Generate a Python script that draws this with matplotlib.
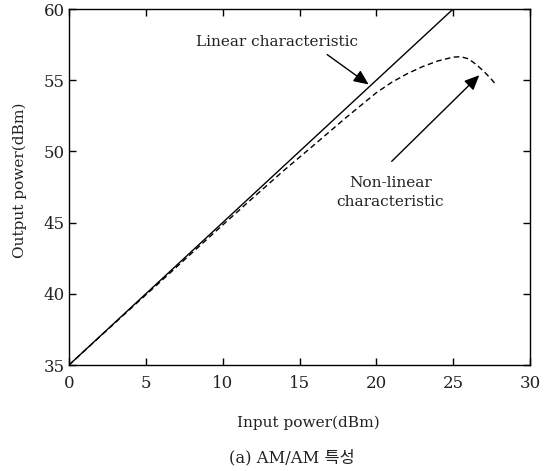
import matplotlib.pyplot as plt

# data
lin_x = [0, 25]
lin_y = [35, 60]

nl_x = [0, 2, 4, 6, 8, 10, 12, 14, 16, 18, 20, 21, 22, 23, 24, 25, 25.5, 26, 26.5, 27, 27.5, 27.8]
nl_y = [35, 36.98, 38.95, 40.9, 42.87, 44.83, 46.77, 48.68, 50.5, 52.35, 54.12, 54.85, 55.45,
        55.95, 56.35, 56.62, 56.65, 56.5, 56.1, 55.62, 55.05, 54.66]

x_ticks = [0, 5, 10, 15, 20, 25, 30]
y_ticks = [35, 40, 45, 50, 55, 60]

plt.rcParams['font.family'] = ['DejaVu Serif', 'Noto Sans CJK KR']
txt = '#222222'

fig = plt.figure(figsize=(5.45, 4.71), dpi=100)
ax = fig.add_axes([69 / 545, 1 - 365 / 471, 461 / 545, 356 / 471])

ax.plot(lin_x, lin_y, color='black', lw=1.0)
ax.plot(nl_x, nl_y, color='black', lw=1.0, linestyle=(0, (4, 2.5)))

ax.set_xlim(0, 30)
ax.set_ylim(35, 60)
ax.set_xticks(x_ticks)
ax.set_yticks(y_ticks)
ax.tick_params(direction='in', length=5, width=1, top=True, right=True,
               labelsize=12, labelcolor=txt)
ax.tick_params(axis='x', pad=7.5)
ax.tick_params(axis='y', pad=3)
for s in ax.spines.values():
    s.set_linewidth(1.0)

ax.set_xlabel('Input power(dBm)', fontsize=11.1, color=txt)
ax.xaxis.set_label_coords((308 - 69) / 461, (365 - 416) / 356)
ax.set_ylabel('Output power(dBm)', fontsize=11.1, color=txt)
ax.yaxis.set_label_coords((27 - 69) / 461, (365 - 180) / 356)

arrow = dict(arrowstyle='-|>,head_length=0.9,head_width=0.4', color='black', lw=1.0,
             shrinkA=0, shrinkB=0)
ax.annotate('', xy=(19.5, 54.7), xytext=(16.8, 56.8), arrowprops=arrow)
ax.annotate('', xy=(26.7, 55.35), xytext=(21.0, 49.3), arrowprops=arrow)

ax.text(13.53, 57.7, 'Linear characteristic', fontsize=11, ha='center', va='center', color=txt)
ax.text(20.9, 47.1, 'Non-linear\ncharacteristic', fontsize=11.1, ha='center', va='center',
        linespacing=1.45, color=txt)

fig.text(292 / 545, 1 - 458 / 471, '(a) AM/AM 특성', fontsize=11.8, ha='center', va='center',
         color=txt)

fig.savefig('out.png', dpi=100)
